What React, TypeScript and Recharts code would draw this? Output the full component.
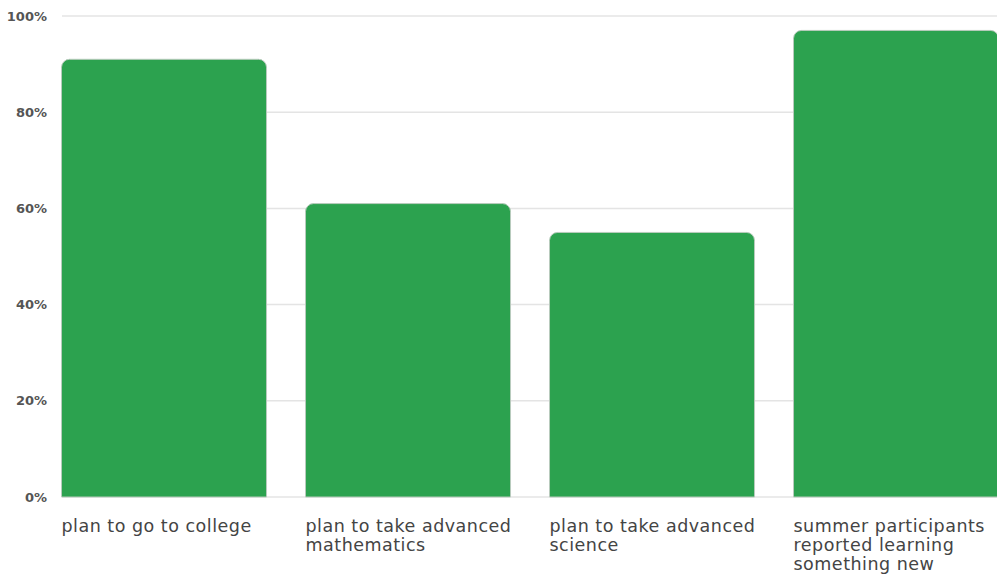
import React from "react";
import { BarChart, Bar, XAxis, YAxis, CartesianGrid } from "recharts";

const categories = [
  "plan to go to college",
  "plan to take advanced mathematics",
  "plan to take advanced science",
  "summer participants reported learning something new",
];
const percents = [91, 61, 55, 97];
const yTicks = [0, 20, 40, 60, 80, 100];

const data = categories.map((label, i) => ({ label, value: percents[i] }));

const GREEN = "#2ca24f";
const INK = "#444";

function wrap(text: string, max: number) {
  const lines: string[] = [];
  let cur = "";
  for (const w of text.split(" ")) {
    const next = cur ? `${cur} ${w}` : w;
    if (next.length > max && cur) {
      lines.push(cur);
      cur = w;
    } else cur = next;
  }
  if (cur) lines.push(cur);
  return lines;
}

function CategoryTick(props: any) {
  const { x, y, payload } = props;
  const lines = wrap(String(payload.value), 21);
  const left = x - 102.5;
  return (
    <text
      x={left}
      y={y}
      textAnchor="start"
      fill={INK}
      fontSize={17.5}
      letterSpacing={0.5}
      fontFamily="'DejaVu Sans', sans-serif"
    >
      {lines.map((l, i) => (
        <tspan key={i} x={left} dy={i === 0 ? 27 : 19}>
          {l}
        </tspan>
      ))}
    </text>
  );
}

export default function App() {
  return (
    <div
      style={{
        position: "absolute",
        left: 0,
        top: 0,
        width: 997,
        height: 574,
        overflow: "hidden",
        background: "#fff",
      }}
    >
      <BarChart
        width={997}
        height={574}
        data={data}
        margin={{ top: 16, right: 0, bottom: 0, left: 0 }}
        barCategoryGap="8%"
      >
        <CartesianGrid vertical={false} stroke="#e4e4e4" strokeWidth={1.5} />
        <XAxis
          dataKey="label"
          height={77}
          axisLine={false}
          tickLine={false}
          interval={0}
          padding={{ left: -20, right: -21 }}
          tick={<CategoryTick />}
        />
        <YAxis
          width={62}
          domain={[0, 100]}
          ticks={yTicks}
          axisLine={false}
          tickLine={false}
          tickSize={0}
          tickMargin={15}
          tickFormatter={(v) => `${v}%`}
          tick={{
            fontSize: 13,
            fontWeight: 700,
            fill: "#555",
            fontFamily: "'DejaVu Sans', sans-serif",
          }}
        />
        <Bar
          dataKey="value"
          fill={GREEN}
          stroke="#b9cbbd"
          strokeWidth={1}
          radius={[8, 8, 0, 0]}
          isAnimationActive={false}
        />
      </BarChart>
    </div>
  );
}
